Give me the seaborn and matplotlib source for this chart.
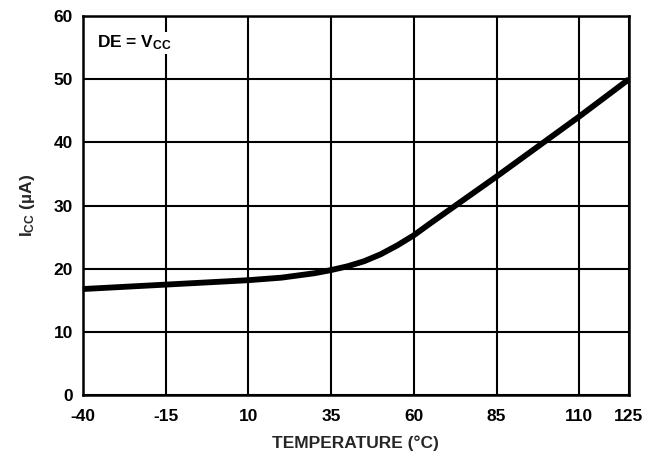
import matplotlib
matplotlib.use("Agg")
import matplotlib.pyplot as plt
import seaborn as sns
import pandas as pd

# Supply current versus temperature
temperature_c = [-40, -15, 10, 20, 30, 35, 40, 45, 50, 55, 60, 65, 75, 85, 100, 110, 125]
icc_ua = [16.8, 17.5, 18.2, 18.6, 19.3, 19.8, 20.4, 21.2, 22.3, 23.7, 25.3, 27.2, 30.9, 34.6, 40.3, 44.1, 50.0]

x_ticks = [-40, -15, 10, 35, 60, 85, 110, 125]
y_ticks = [0, 10, 20, 30, 40, 50, 60]

sns.set_theme(style="white")
plt.rcParams["font.family"] = ["Liberation Sans", "DejaVu Sans"]
plt.rcParams["font.weight"] = "bold"
plt.rcParams["axes.unicode_minus"] = False
plt.rcParams["mathtext.fontset"] = "custom"
plt.rcParams["mathtext.rm"] = "Liberation Sans:bold"
plt.rcParams["mathtext.bf"] = "Liberation Sans:bold"
plt.rcParams["mathtext.it"] = "Liberation Sans:bold"

FS = 12.5

df = pd.DataFrame({"T": temperature_c, "I": icc_ua})

fig = plt.figure(figsize=(6.62, 4.59), dpi=100)
ax = fig.add_axes([0.125, 0.139, 0.825, 0.826])

ax.set_xlim(-40, 125)
ax.set_ylim(0, 60)
ax.set_xticks(x_ticks)
ax.set_yticks(y_ticks)
ax.grid(True, color="black", linewidth=1.5)
ax.set_axisbelow(True)
for s in ax.spines.values():
    s.set_color("black")
    s.set_linewidth(1.8)

sns.lineplot(data=df, x="T", y="I", ax=ax, color="black", linewidth=4.2,
             solid_capstyle="butt", clip_on=False)

ax.tick_params(axis="x", length=0, pad=10, labelsize=FS, colors="black")
ax.tick_params(axis="y", length=0, pad=7, labelsize=FS, colors="black")
for lab in ax.get_xticklabels() + ax.get_yticklabels():
    lab.set_fontweight("bold")

ax.set_xlabel("TEMPERATURE (°C)", fontsize=FS, fontweight="bold", labelpad=8)
ax.set_ylabel(r"I$_{\mathrm{CC}}$ (µA)", fontsize=FS, fontweight="bold", labelpad=12)

ax.text(-35.8, 55.0, r"DE = V$_{\mathrm{CC}}$", fontsize=FS, fontweight="bold",
        color="black", bbox=dict(facecolor="white", edgecolor="none", pad=1))

fig.savefig("out.png", dpi=100, facecolor="white")
